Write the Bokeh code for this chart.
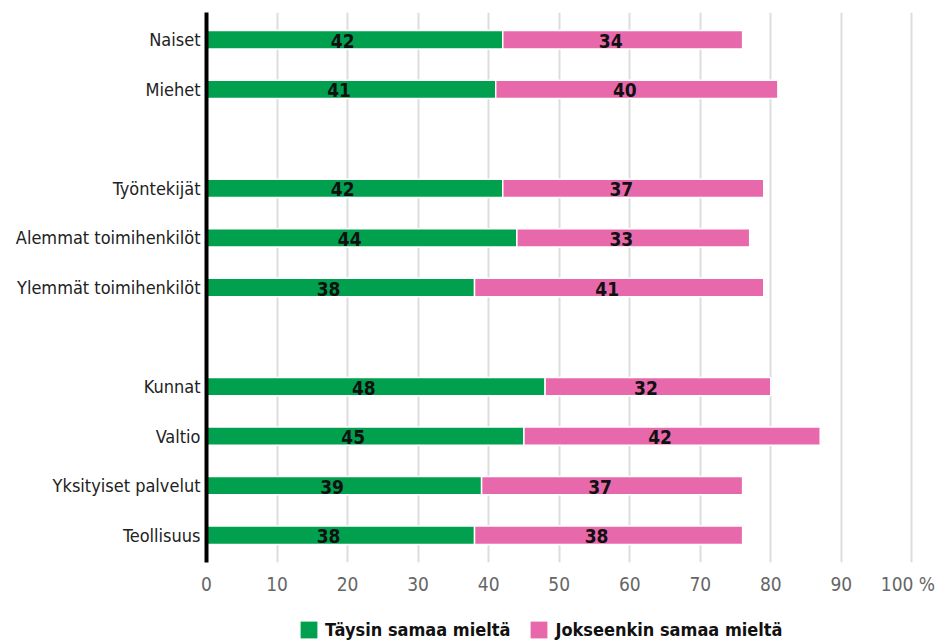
from bokeh.plotting import figure
from bokeh.layouts import column
from bokeh.models import (ColumnDataSource, Range1d, FixedTicker, Legend, LegendItem)
from bokeh.core.properties import value
from bokeh.embed import file_html
from bokeh.resources import INLINE

categories = ["Naiset", "Miehet", "Työntekijät", "Alemmat toimihenkilöt",
              "Ylemmät toimihenkilöt", "Kunnat", "Valtio", "Yksityiset palvelut", "Teollisuus"]
rows = [0, 1, 3, 4, 5, 7, 8, 9, 10]
taysin = [42, 41, 42, 44, 38, 48, 45, 39, 38]
jokseenkin = [34, 40, 37, 33, 41, 32, 42, 37, 38]
series_names = ["Täysin samaa mieltä", "Jokseenkin samaa mieltä"]
x_ticks = [0, 10, 20, 30, 40, 50, 60, 70, 80, 90, 100]
x_tick_labels = ["0", "10", "20", "30", "40", "50", "60", "70", "80", "90", "100  %"]

GREEN = "#00a04f"
PINK = "#e868ac"
FONT = "DejaVu Sans Condensed"

ends = [a + b for a, b in zip(taysin, jokseenkin)]
src = ColumnDataSource(dict(
    y=rows, t=taysin, j=jokseenkin, end=ends, zero=[0] * len(rows),
    tmid=[a / 2 for a in taysin],
    jmid=[a + b / 2 for a, b in zip(taysin, jokseenkin)],
    tlab=[str(v) for v in taysin], jlab=[str(v) for v in jokseenkin],
))

p = figure(width=940, height=600, output_backend="svg", toolbar_location=None,
           x_range=Range1d(0, 101.5), y_range=Range1d(10.55, -0.55),
           min_border_left=206, min_border_right=18, min_border_top=12, min_border_bottom=38)
p.outline_line_color = None
p.background_fill_color = "white"
p.border_fill_color = "white"

r1 = p.hbar(y="y", left="zero", right="t", height=0.37, source=src,
            fill_color=GREEN, line_color="white", line_width=1.5)
r2 = p.hbar(y="y", left="t", right="end", height=0.37, source=src,
            fill_color=PINK, line_color="white", line_width=1.5)

p.text(x="tmid", y="y", text="tlab", source=src, text_align="center", text_baseline="middle",
       x_offset=-12, y_offset=1, text_font=value(FONT), text_font_style="bold",
       text_font_size="19px", text_color="#111111")
p.text(x="jmid", y="y", text="jlab", source=src, text_align="center", text_baseline="middle",
       x_offset=-12, y_offset=1, text_font=value(FONT), text_font_style="bold",
       text_font_size="19px", text_color="#111111")

# x axis: the last label carries the unit, centred a little right of 100
label_pos = x_ticks[:-1] + [101]
p.xaxis.ticker = FixedTicker(ticks=label_pos)
p.xaxis.major_label_overrides = {t: s for t, s in zip(label_pos, x_tick_labels)}
p.xaxis.axis_line_color = None
p.xaxis.major_tick_line_color = None
p.xaxis.minor_tick_line_color = None
p.xaxis.major_tick_out = 0
p.xaxis.major_tick_in = 0
p.xaxis.major_label_text_font = FONT
p.xaxis.major_label_text_font_size = "19px"
p.xaxis.major_label_text_color = "#666666"
p.xaxis.major_label_standoff = 10
p.xgrid.ticker = FixedTicker(ticks=x_ticks[1:])
p.xgrid.grid_line_color = "#dddddd"
p.xgrid.grid_line_width = 2
p.ygrid.grid_line_color = None

# y axis
p.yaxis.ticker = FixedTicker(ticks=rows)
p.yaxis.major_label_overrides = {r: c for r, c in zip(rows, categories)}
p.yaxis.axis_line_color = "black"
p.yaxis.axis_line_width = 4
p.yaxis.major_tick_line_color = None
p.yaxis.minor_tick_line_color = None
p.yaxis.major_tick_out = 0
p.yaxis.major_tick_in = 0
p.yaxis.major_label_text_font = FONT
p.yaxis.major_label_text_font_size = "18px"
p.yaxis.major_label_text_color = "#222222"
p.yaxis.major_label_standoff = 6

# legend strip below the chart (its bars lie outside the visible range)
lg = figure(width=940, height=40, output_backend="svg", toolbar_location=None,
            x_range=Range1d(0, 1), y_range=Range1d(100, 101),
            x_axis_location=None, y_axis_location=None,
            min_border_left=0, min_border_right=0, min_border_top=0, min_border_bottom=0)
lg.outline_line_color = None
lg.grid.grid_line_color = None
lg1 = lg.hbar(y="y", left="zero", right="t", height=0.37, source=src,
              fill_color=GREEN, line_color=None)
lg2 = lg.hbar(y="y", left="t", right="end", height=0.37, source=src,
              fill_color=PINK, line_color=None)
legend = Legend(items=[LegendItem(label=series_names[0], renderers=[lg1]),
                       LegendItem(label=series_names[1], renderers=[lg2])],
                orientation="horizontal", location=(92, 0),
                label_text_font=FONT, label_text_font_style="bold", label_text_font_size="18px",
                label_text_color="#111111", glyph_width=21, glyph_height=21,
                spacing=18, label_standoff=6, border_line_color=None,
                background_fill_color=None, background_fill_alpha=0, margin=0, padding=0)
lg.add_layout(legend, "center")

layout = column(p, lg, spacing=0)
open("out.html", "w").write(file_html(layout, INLINE))
